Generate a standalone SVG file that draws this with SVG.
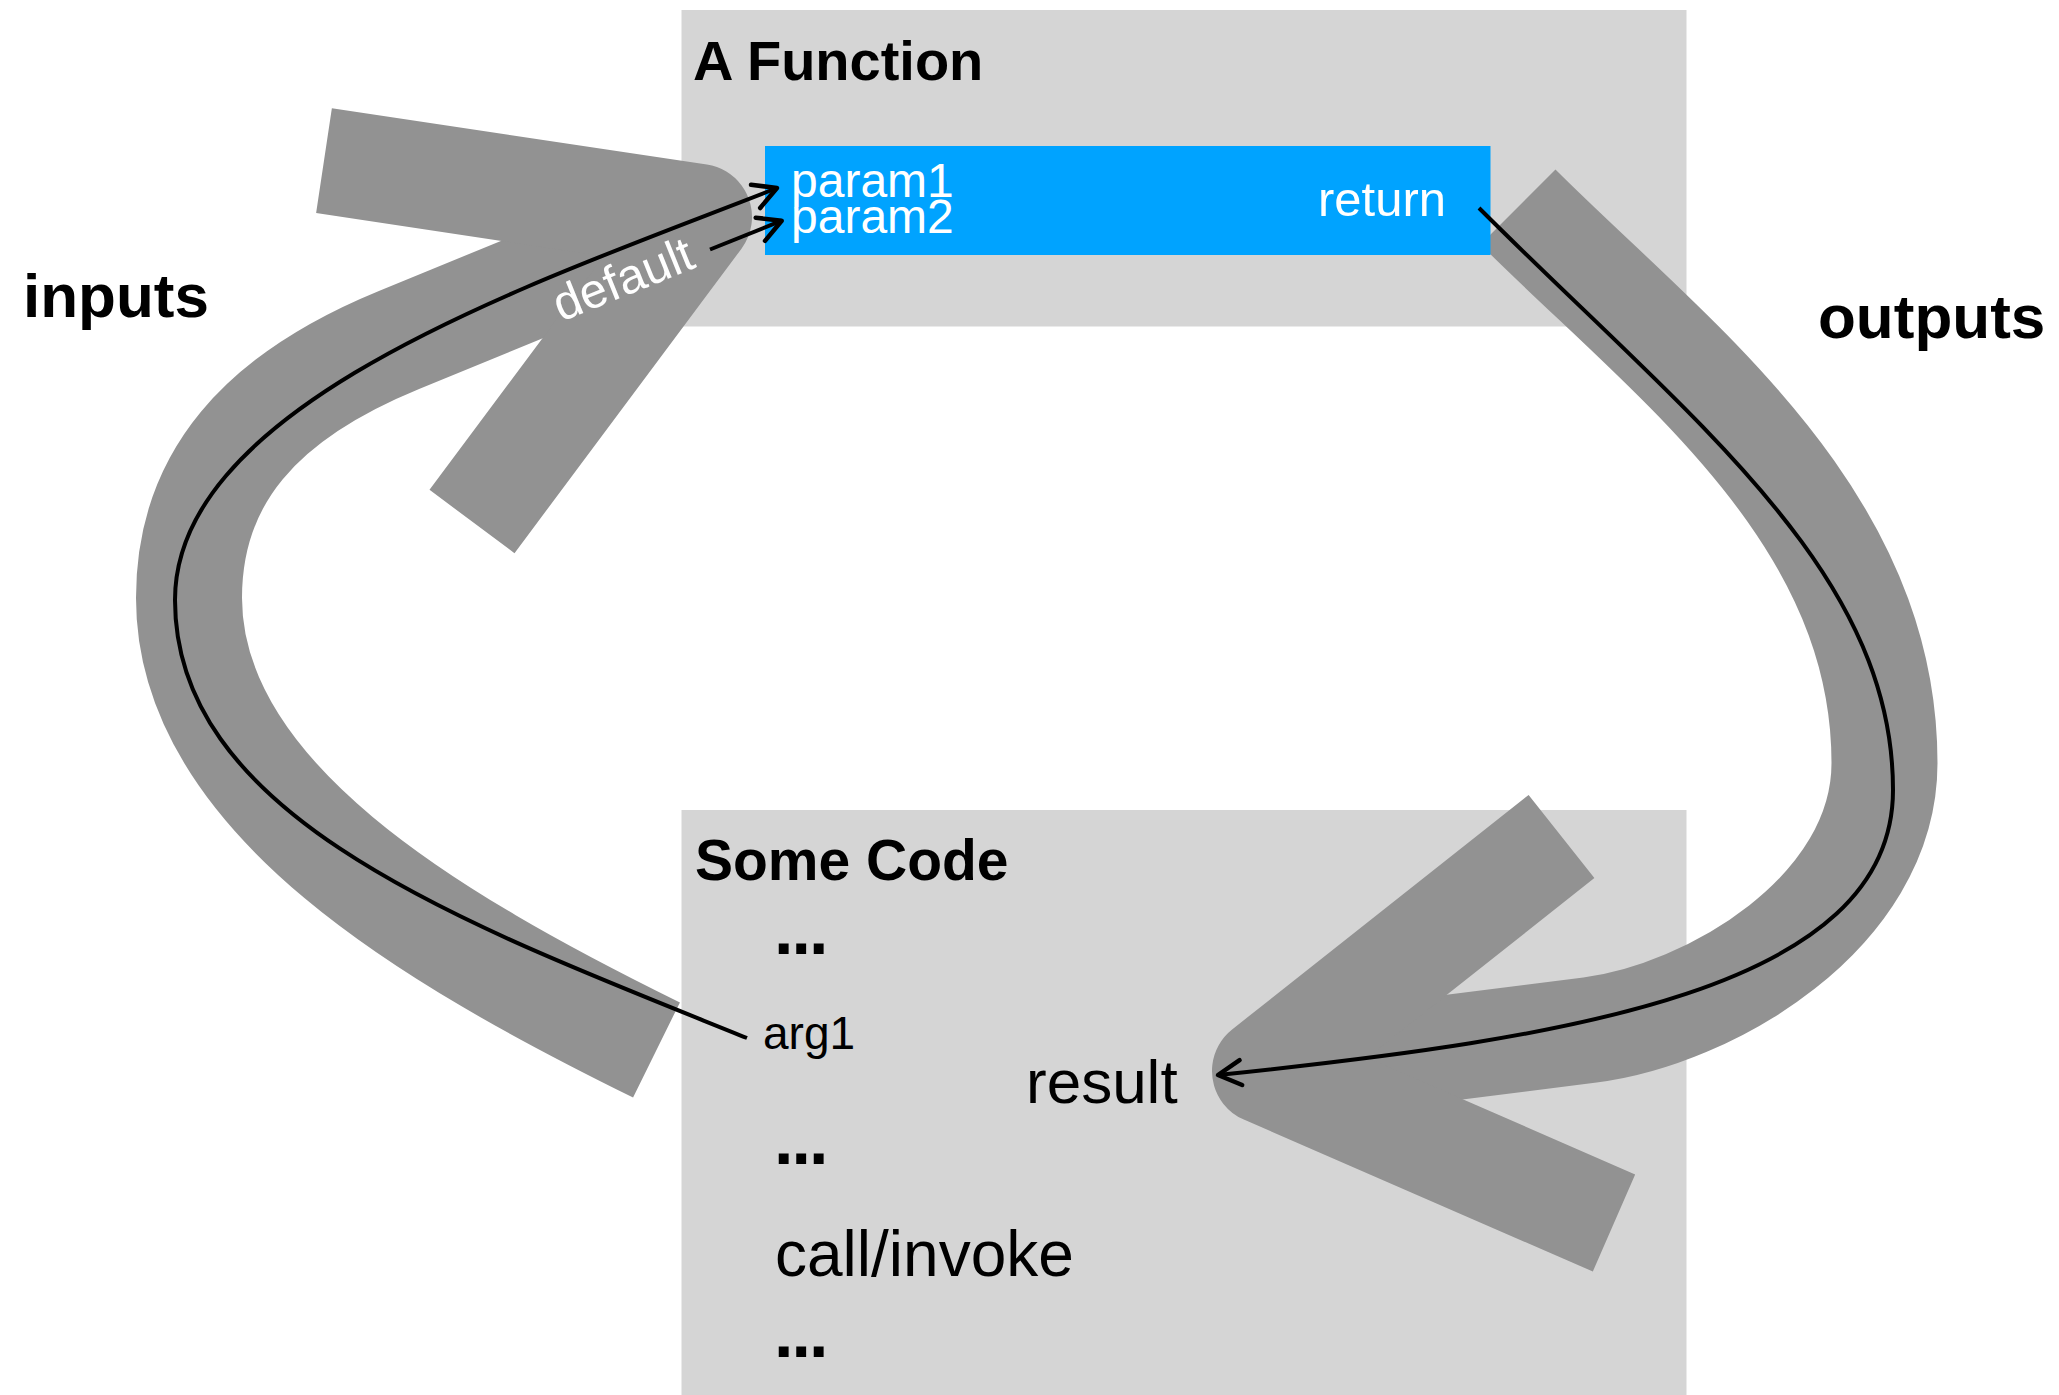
<svg xmlns="http://www.w3.org/2000/svg" width="2059" height="1395" viewBox="0 0 2059 1395">
  <defs>
    <style>
      .box { fill: #d5d5d5; }
      .sig { fill: #00a3ff; }
      .band { fill: none; stroke: #929292; stroke-width: 106; stroke-linecap: butt; stroke-linejoin: round; }
      .wire { fill: none; stroke: #000; stroke-width: 4; }
      .title { font-family: "Liberation Sans", Arial, sans-serif; font-weight: bold; fill: #000; }
      .code { font-family: "Liberation Sans", Arial, sans-serif; fill: #000; }
      .white { font-family: "Liberation Sans", Arial, sans-serif; fill: #fff; }
      .dots { font-family: "Liberation Sans", Arial, sans-serif; font-weight: bold; fill: #000; font-size: 70px; letter-spacing: -2px; }
    </style>
    <marker id="open" markerUnits="userSpaceOnUse" viewBox="-30 -18 34 36" markerWidth="34" markerHeight="36" refX="0" refY="0" orient="auto">
      <path d="M-23,-12.5 L0,0 L-23,12.5" fill="none" stroke="#000" stroke-width="4.5" stroke-linejoin="round" stroke-linecap="round"/>
    </marker>
  </defs>
  <rect width="2059" height="1395" fill="#fff"/>

  <g id="function-box">
    <rect class="box" x="681.5" y="10" width="1005" height="316.5"/>
    <text class="title" x="693" y="80" font-size="56">A Function</text>
  </g>

  <g id="some-code">
    <rect class="box" x="681.5" y="810" width="1005" height="600"/>
    <text class="title" x="695" y="880" font-size="57">Some Code</text>
    <text class="dots" x="774" y="954">...</text>
    <text class="code" x="763" y="1049" font-size="46">arg1</text>
    <text class="code" x="1026" y="1103" font-size="62">result</text>
    <text class="dots" x="774" y="1164">...</text>
    <text class="code" x="775" y="1276" font-size="64">call/invoke</text>
    <text class="dots" x="774" y="1357">...</text>
  </g>

  <g id="labels">
    <text class="title" x="23" y="317" font-size="62">inputs</text>
    <text class="title" x="1818" y="338" font-size="62">outputs</text>
  </g>

  <g id="flows">
    <g id="inputs-flow">
      <path class="band" d="M656.5,1050 C432.3,939.5 189,798 189,598 C189,478 260.25,396.85 399,340 L699,217"/>
      <path class="band" d="M324,160.7 L699,217 L472,521.5"/>
    </g>
    <g id="outputs-flow">
      <path class="band" d="M1518,207 C1668,357 1884.5,513 1884.5,763 C1884.5,913 1709,1015 1590,1030 L1265,1071"/>
      <path class="band" d="M1561.5,836.5 L1265,1071 L1614,1223"/>
    </g>
  </g>

  <g id="signature">
    <rect class="sig" x="765" y="146" width="725.5" height="109"/>
    <text class="white" x="791" y="197" font-size="48">param1</text>
    <text class="white" x="791" y="233" font-size="48">param2</text>
    <text class="white" x="1446" y="216" font-size="49" text-anchor="end">return</text>
  </g>

  <g id="connectors">
    <path id="arg-to-param1" class="wire" d="M747,1038 C468.9,925.8 175,820 175,600 C175,400 544.25,279.5 777,188" marker-end="url(#open)"/>
    <path id="default-to-param2" class="wire" d="M710,249.5 L781.7,220.7" marker-end="url(#open)"/>
    <text class="white" x="561" y="322" font-size="49" transform="rotate(-22 561 322)">default</text>
    <path id="return-to-result" class="wire" d="M1479,208 C1691,420 1893,570 1893,790 C1893,990 1566,1038.6 1218,1075" marker-end="url(#open)"/>
  </g>
</svg>
